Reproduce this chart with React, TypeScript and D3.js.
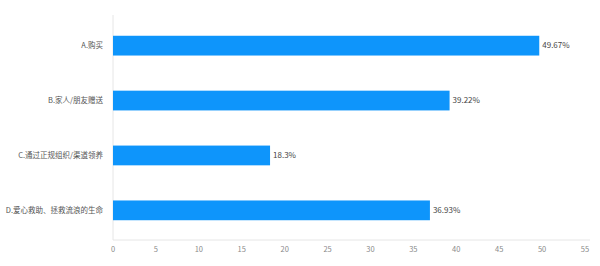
import React from "react";
import * as d3 from "d3";

const categories = ["A.购买", "B.家人/朋友赠送", "C.通过正规组织/渠道领养", "D.爱心救助、拯救流浪的生命"];
const values = [49.67, 39.22, 18.3, 36.93];
const valueLabels = ["49.67%", "39.22%", "18.3%", "36.93%"];
const xTicks = [0, 5, 10, 15, 20, 25, 30, 35, 40, 45, 50, 55];

const W = 600;
const H = 266;
const margin = { left: 113, right: 15, top: 16, bottom: 26 };

export default function App() {
  const x = d3.scaleLinear().domain([0, 55]).range([margin.left, W - margin.right]);
  const y = d3
    .scaleBand<string>()
    .domain(categories)
    .range([margin.top, H - margin.bottom])
    .paddingInner(0.64)
    .paddingOuter(0.36);
  const font = "'Microsoft YaHei', 'Noto Sans CJK SC', 'Noto Sans', sans-serif";
  return (
    <svg
      width={W}
      height={H}
      style={{ position: "absolute", left: 0, top: 0, background: "#fff" }}
      fontFamily={font}
    >
      <line x1={margin.left} x2={margin.left} y1={margin.top - 1} y2={H - margin.bottom} stroke="#e6e6e6" strokeWidth={1} />
      <line x1={margin.left} x2={W - 10} y1={H - margin.bottom} y2={H - margin.bottom} stroke="#e6e6e6" strokeWidth={1} />
      {xTicks.map((t) => (
        <text key={t} x={x(t)} y={H - margin.bottom + 12} fontSize={7.5} fill="#8a8a8a" textAnchor="middle">
          {t}
        </text>
      ))}
      {categories.map((c, i) => (
        <g key={c}>
          <rect x={x(0)} y={y(c)} width={x(values[i]) - x(0)} height={y.bandwidth()} fill="#0e95fb" />
          <text
            x={margin.left - 10}
            y={(y(c) as number) + y.bandwidth() / 2}
            dy="0.35em"
            fontSize={7.5}
            fill="#555"
            textAnchor="end"
          >
            {c}
          </text>
          <text
            x={x(values[i]) + 3}
            y={(y(c) as number) + y.bandwidth() / 2}
            dy="0.35em"
            fontSize={8}
            fill="#444"
          >
            {valueLabels[i]}
          </text>
        </g>
      ))}
    </svg>
  );
}
